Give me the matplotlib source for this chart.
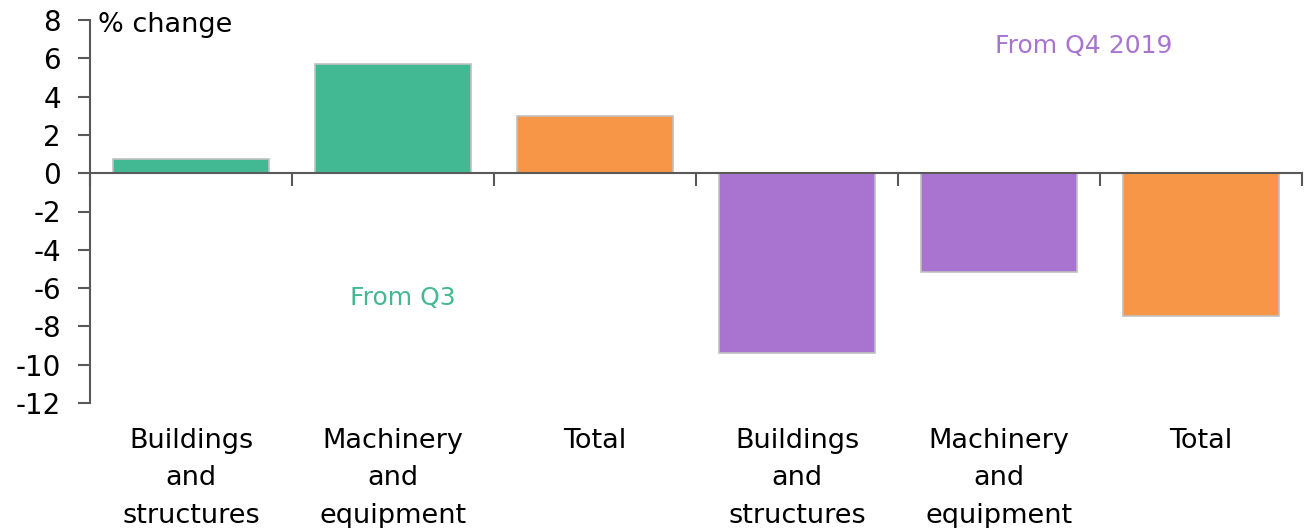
import numpy as np
import matplotlib.pyplot as plt
from matplotlib.transforms import blended_transform_factory

plt.rcParams['font.family'] = ['DejaVu Sans']
plt.rcParams['axes.unicode_minus'] = False

categories = ['Buildings\nand\nstructures', 'Machinery\nand\nequipment', 'Total',
              'Buildings\nand\nstructures', 'Machinery\nand\nequipment', 'Total']
values = [0.73, 5.7, 3.0, -9.4, -5.15, -7.45]
green = '#43b993'
orange = '#f79646'
purple = '#a874d0'
colors = [green, green, orange, purple, purple, orange]

fig = plt.figure(figsize=(13.16, 5.28), dpi=100)
ax = fig.add_axes([90 / 1316, 1 - 403 / 528, (1302 - 90) / 1316, (403 - 20) / 528])

x = np.arange(len(values)) + 0.5
ax.bar(x, values, width=0.77, color=colors, edgecolor='#c0c0c0', linewidth=1.2, zorder=2)

ax.set_xlim(0, 6)
ax.set_ylim(-12, 8)
ax.set_yticks(np.arange(-12, 9, 2))
ax.set_xticks(np.arange(0, 7, 1))
ax.set_xticklabels([])

for s in ['top', 'right']:
    ax.spines[s].set_visible(False)
ax.spines['bottom'].set_position(('data', 0))
for s in ['bottom', 'left']:
    ax.spines[s].set_color('#595959')
    ax.spines[s].set_linewidth(1.5)
ax.spines['bottom'].set_zorder(3)
ax.tick_params(axis='y', direction='out', length=9, width=1.5, color='#595959',
               labelsize=20, pad=12, labelcolor='black')
ax.tick_params(axis='x', direction='out', length=9, width=1.5, color='#595959')

trans = blended_transform_factory(ax.transData, ax.transAxes)
for xi, lab in zip(x, categories):
    ax.text(xi, -0.065, lab, transform=trans, ha='center', va='top',
            fontsize=19.5, linespacing=1.58)

ax.text(0.007, 0.987, '% change', transform=ax.transAxes, ha='left', va='center', fontsize=19.5)
ax.text(1.55, -6.5, 'From Q3', color=green, ha='center', va='center', fontsize=18)
ax.text(4.92, 6.65, 'From Q4 2019', color=purple, ha='center', va='center', fontsize=18)

fig.savefig('out.png', dpi=100)
